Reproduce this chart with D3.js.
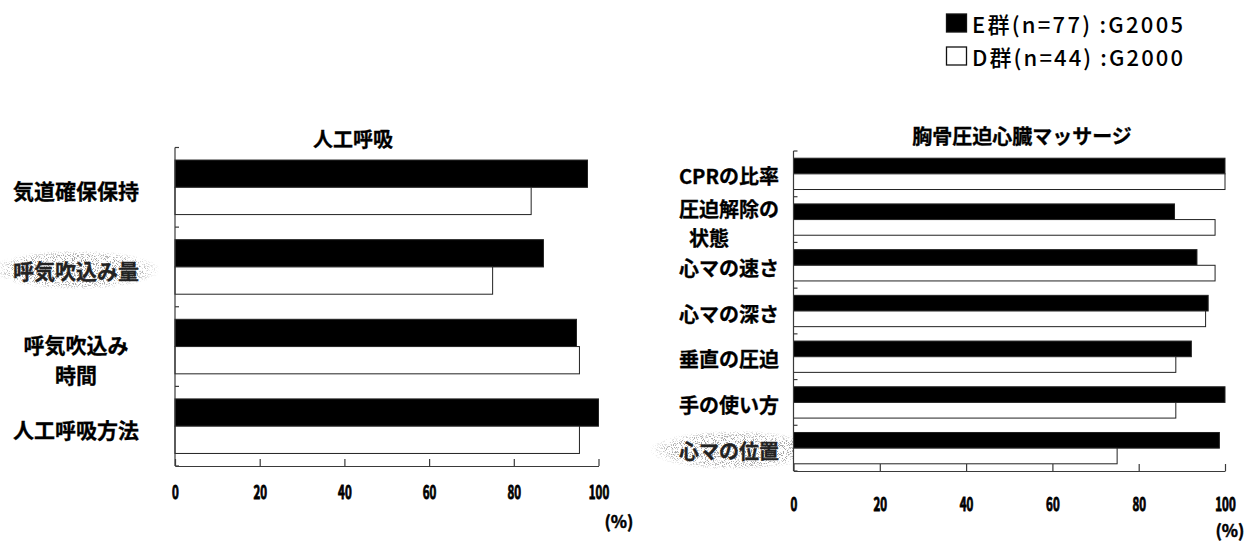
<!DOCTYPE html>
<html lang="ja">
<head>
<meta charset="utf-8">
<script src="https://cdn.jsdelivr.net/npm/d3@7"></script>
<style>
  html, body { margin: 0; padding: 0; background: #fff; }
  svg { display: block; }
  .jp { font-family: "Noto Sans CJK JP", "Noto Sans", sans-serif; }
</style>
</head>
<body>
<svg id="chart" width="1253" height="543"></svg>
<script>
// ---- data -------------------------------------------------------------
const seriesKeys   = ["E", "D"];
const seriesLabels = ["E群(n=77) :G2005", "D群(n=44) :G2000"];

const breathCategories = ["気道確保保持", "呼気吹込み量", "呼気吹込み\n時間", "人工呼吸方法"];
const breathE = [97.4, 87.0, 94.8, 100];
const breathD = [84.1, 75.0, 95.5, 95.5];

const cprCategories = ["CPRの比率", "圧迫解除の\n\u2002状態", "心マの速さ", "心マの深さ",
                       "垂直の圧迫", "手の使い方", "心マの位置"];
const cprE = [100, 88.3, 93.5, 96.1, 92.2, 100, 98.7];
const cprD = [100, 97.7, 97.7, 95.5, 88.6, 88.6, 75.0];

const xTickValues = [0, 20, 40, 60, 80, 100];
const panelTitles = ["人工呼吸", "胸骨圧迫心臓マッサージ"];
const unitText = "(%)";
// labels drawn over a speckled patch
const grainyLabels = ["呼気吹込み量", "心マの位置"];

// ---- layout -----------------------------------------------------------
const svg = d3.select("#chart");

const defs = svg.append("defs");
const grain = defs.append("filter").attr("id", "grain")
  .attr("x", 0).attr("y", 0).attr("width", "100%").attr("height", "100%");
grain.append("feTurbulence").attr("type", "fractalNoise")
  .attr("baseFrequency", 0.9).attr("numOctaves", 2).attr("seed", 7);
grain.append("feColorMatrix").attr("type", "matrix")
  .attr("values", "0 0 0 0 0.3  0 0 0 0 0.3  0 0 0 0 0.3  9 0 0 0 -4.8");
const fade = defs.append("radialGradient").attr("id", "fade");
fade.append("stop").attr("offset", "0%").attr("stop-color", "#fff").attr("stop-opacity", 1);
fade.append("stop").attr("offset", "75%").attr("stop-color", "#fff").attr("stop-opacity", 0.8);
fade.append("stop").attr("offset", "100%").attr("stop-color", "#fff").attr("stop-opacity", 0);
defs.append("mask").attr("id", "fadeMask").attr("maskContentUnits", "objectBoundingBox")
  .append("rect").attr("width", 1).attr("height", 1).attr("fill", "url(#fade)");

const panels = [
  { title: panelTitles[0], titleX: 353, titleY: 138,
    cats: breathCategories, e: breathE, d: breathD,
    x0: 175, x1: 598.5, y0: 147.5, y1: 466,
    labelX: 76, labelAnchor: "middle", labelSize: 21, labelDy: 3, lineGap: 30.5, firstLineDy: -6,
    tickLabelPad: 27, unitX: 619, unitY: 520 },
  { title: panelTitles[1], titleX: 1022, titleY: 135,
    cats: cprCategories, e: cprE, d: cprD,
    x0: 793.5, x1: 1225, y0: 151, y1: 471,
    labelX: 679, labelAnchor: "start", labelSize: 20, labelDy: 2, lineGap: 29, firstLineDy: -13,
    tickLabelPad: 34, unitX: 1230, unitY: 529 }
];

const axisColor = "#3a3a3a";
const digitWidth = 6.8;

panels.forEach(p => {
  const g = svg.append("g");

  const x = d3.scaleLinear().domain([0, 100]).range([p.x0, p.x1]);
  const y = d3.scaleBand().domain(p.cats).range([p.y0, p.y1]).padding(0);
  const ys = d3.scaleBand().domain(seriesKeys).range([0, y.bandwidth()])
    .paddingInner(0).paddingOuter(0.46);

  const rows = p.cats.map((c, i) => ({ cat: c, E: p.e[i], D: p.d[i] }));

  // speckle patches behind some labels
  rows.filter(r => grainyLabels.includes(r.cat)).forEach(r => {
    const cy = y(r.cat) + y.bandwidth() / 2 + p.labelDy;
    const w = 170, h = 40;
    const left = p.labelAnchor === "middle" ? p.labelX - w / 2 : p.labelX - 30;
    g.append("rect")
      .attr("x", left).attr("y", cy - h / 2).attr("width", w).attr("height", h)
      .attr("filter", "url(#grain)").attr("mask", "url(#fadeMask)");
  });

  // bars
  const rowG = g.selectAll("g.row").data(rows).join("g")
    .attr("class", "row")
    .attr("transform", r => `translate(0,${y(r.cat)})`);
  rowG.selectAll("rect").data(r => seriesKeys.map(k => ({ k, v: r[k] }))).join("rect")
    .attr("x", x(0))
    .attr("y", s => ys(s.k))
    .attr("width", s => x(s.v) - x(0))
    .attr("height", ys.bandwidth())
    .attr("fill", s => s.k === "E" ? "#000" : "#fff")
    .attr("stroke", "#222")
    .attr("stroke-width", 1);

  // category axis: line with small inward ticks at band edges
  const edges = p.cats.map(c => y(c)).concat([p.y1]);
  g.append("line").attr("x1", x(0)).attr("x2", x(0)).attr("y1", p.y0).attr("y2", p.y1)
    .attr("stroke", axisColor).attr("stroke-width", 1.2);
  g.selectAll("line.ytick").data(edges).join("line").attr("class", "ytick")
    .attr("x1", x(0)).attr("x2", x(0) + 4).attr("y1", d => d).attr("y2", d => d)
    .attr("stroke", axisColor).attr("stroke-width", 1.2);

  // value axis
  const fmt = d3.format("d");
  const ax = g.append("g").attr("transform", `translate(0,${p.y1})`)
    .call(d3.axisBottom(x).tickValues(xTickValues).tickSize(-7)
      .tickPadding(p.tickLabelPad).tickSizeOuter(0).tickFormat(fmt));
  ax.select(".domain").attr("stroke", axisColor).attr("stroke-width", 1.2);
  ax.selectAll(".tick line").attr("stroke", axisColor).attr("stroke-width", 1.2);
  ax.selectAll(".tick text")
    .attr("class", "jp")
    .attr("font-size", 18).attr("font-weight", 700).attr("fill", "#000")
    .attr("stroke", "#000").attr("stroke-width", 0.9)
    .attr("dy", "0.36em")
    .attr("textLength", d => fmt(d).length * digitWidth)
    .attr("lengthAdjust", "spacingAndGlyphs");

  // unit
  g.append("text").attr("class", "jp")
    .attr("x", p.unitX).attr("y", p.unitY)
    .attr("text-anchor", "middle").attr("dominant-baseline", "central")
    .attr("font-size", 17).attr("font-weight", 700)
    .attr("stroke", "#000").attr("stroke-width", 0.5)
    .attr("textLength", 29).attr("lengthAdjust", "spacingAndGlyphs")
    .text(unitText);

  // title
  g.append("text").attr("class", "jp")
    .attr("x", p.titleX).attr("y", p.titleY)
    .attr("text-anchor", "middle").attr("dominant-baseline", "central")
    .attr("font-size", 20).attr("font-weight", 700)
    .attr("stroke", "#000").attr("stroke-width", 0.3)
    .text(p.title);

  // category labels
  rows.forEach(r => {
    const lines = r.cat.split("\n");
    const cy = y(r.cat) + y.bandwidth() / 2 + p.labelDy;
    lines.forEach((ln, i) => {
      g.append("text").attr("class", "jp")
        .attr("x", p.labelX)
        .attr("y", lines.length === 1 ? cy : cy + p.firstLineDy + i * p.lineGap)
        .attr("text-anchor", p.labelAnchor).attr("dominant-baseline", "central")
        .attr("font-size", p.labelSize).attr("font-weight", 700)
        .attr("fill", grainyLabels.includes(r.cat) ? "#222" : "#000")
        .attr("stroke", grainyLabels.includes(r.cat) ? "#222" : "#000").attr("stroke-width", 0.3)
        .text(ln);
    });
  });
});

// ---- legend -------------------------------------------------------------
const legend = svg.append("g");
const legendY = [23, 56];
seriesKeys.forEach((k, i) => {
  legend.append("rect")
    .attr("x", 946.5).attr("y", legendY[i] - 9).attr("width", 20).attr("height", 18)
    .attr("fill", k === "E" ? "#000" : "#fff").attr("stroke", "#111").attr("stroke-width", 1.3);
  legend.append("text").attr("class", "jp")
    .attr("x", 972).attr("y", legendY[i])
    .attr("dominant-baseline", "central")
    .attr("font-size", 22).attr("font-weight", 500)
    .attr("textLength", 211).attr("lengthAdjust", "spacing")
    .text(seriesLabels[i]);
});
</script>
</body>
</html>
